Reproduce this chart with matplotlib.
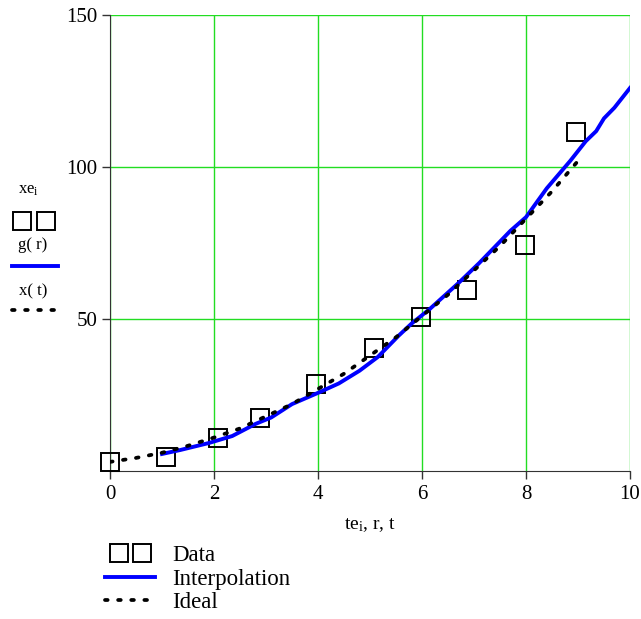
import numpy as np
import matplotlib.pyplot as plt
from matplotlib.lines import Line2D
from matplotlib.legend_handler import HandlerLine2D

plt.rcParams['font.family'] = ['Liberation Serif', 'DejaVu Serif']
plt.rcParams['mathtext.fontset'] = 'custom'
plt.rcParams['mathtext.rm'] = 'Liberation Serif'
plt.rcParams['mathtext.it'] = 'Liberation Serif'

# data points (squares)
te = [0, 1.08, 2.08, 2.88, 3.96, 5.08, 5.98, 6.87, 7.98, 8.96]
xe = [3, 4.5, 11, 17.5, 28.5, 40.5, 50.5, 59.5, 74.5, 111.5]

# interpolation curve g(r)
r = [1.0, 1.35, 1.9, 2.35, 2.8, 3.1, 3.5, 4.0, 4.4, 4.8, 5.15, 5.55, 5.8, 6.15,
     6.7, 7.1, 7.7, 8.0, 8.4, 8.85, 9.15, 9.35, 9.5, 9.7, 10.0]
g = [5.6, 6.9, 9.2, 11.5, 15.5, 17.6, 22.0, 25.7, 28.8, 33.0, 37.5, 44.5, 48.5, 53.3,
     61.8, 68.4, 79.0, 83.5, 93.0, 102.0, 108.5, 111.8, 116.0, 119.5, 126.0]

# ideal curve x(t)
t = [0, 0.5, 1, 1.5, 2, 2.5, 3, 3.5, 4, 4.5, 5, 5.5, 6, 6.5, 7, 7.5, 8, 8.5, 9]
x = [3, 4.3, 6, 8.3, 11, 14, 18, 22, 27, 32, 38, 44, 51, 58, 66, 74, 83, 92, 102]

fig = plt.figure(figsize=(6.41, 6.19), dpi=100)
ax = fig.add_axes([110/641, 1-471/619, 520/641, 456/619])

dots = dict(color='k', lw=2.7, ls=(0, (0.7, 2.8)), dash_capstyle='round')
sq = dict(ls='none', marker='s', ms=12.5, mfc='none', mec='k', mew=1.4)
blue = dict(color='#0000ff', lw=2.8)

ax.plot(te, xe, clip_on=False, zorder=3, **sq)
ax.plot(r, g, zorder=4, **blue)
ax.plot(t, x, zorder=5, **dots)

ax.set_xlim(0, 10)
ax.set_ylim(0, 150)
ax.set_xticks([0, 2, 4, 6, 8, 10])
ax.set_yticks([50, 100, 150])
ax.grid(True, color='#22dd22', lw=1)
ax.set_axisbelow(True)
for s in ['top', 'right']:
    ax.spines[s].set_visible(False)
for s in ['left', 'bottom']:
    ax.spines[s].set_color('#333333')
ax.tick_params(direction='out', length=5.8, width=1, color='#333333',
               labelsize=15)
ax.tick_params(axis='y', pad=3)
ax.tick_params(axis='x', pad=4)
ax.set_xlabel(r'te$_{\mathrm{i}}$, r, t', fontsize=14, labelpad=9)

# stacked y-axis label
fig.text(28/641, 1-190/619, r'xe$_{\mathrm{i}}$', fontsize=12, ha='center', va='center')
fig.add_artist(Line2D([22/641, 46/641], [1-221/619, 1-221/619], transform=fig.transFigure, **sq))
fig.text(33/641, 1-245/619, 'g( r)', fontsize=12, ha='center', va='center')
fig.add_artist(Line2D([12/641, 58/641], [1-266/619, 1-266/619], transform=fig.transFigure, **blue))
fig.text(33/641, 1-291/619, 'x( t)', fontsize=12, ha='center', va='center')
fig.add_artist(Line2D([12/641, 58/641], [1-310/619, 1-310/619], transform=fig.transFigure, **dots))

h_data = Line2D([], [], **sq)
handles = [h_data, Line2D([], [], **blue), Line2D([], [], **dots)]
fig.legend(handles, ['Data', 'Interpolation', 'Ideal'], loc='upper left',
           bbox_to_anchor=(98/641, 1-545/619), frameon=False, fontsize=16.5,
           numpoints=2, handlelength=2.8, handletextpad=0.45, labelspacing=0.11,
           borderaxespad=0, borderpad=0,
           handler_map={h_data: HandlerLine2D(numpoints=2, marker_pad=0.9)})

plt.savefig('out.png', dpi=100)
